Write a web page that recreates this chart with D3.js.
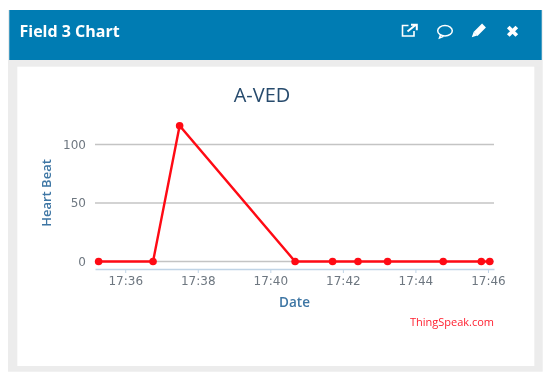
<!DOCTYPE html>
<html>
<head>
<meta charset="utf-8">
<script src="https://cdn.jsdelivr.net/npm/d3@7"></script>
<style>
html,body{margin:0;padding:0;background:#fff;}
svg{display:block;filter:blur(0.35px);}
text{font-family:"DejaVu Sans",sans-serif;}
</style>
</head>
<body>
<svg id="c" width="550" height="379"></svg>
<script>
const panelTitle = "Field 3 Chart";
const chartTitle = "A-VED";
const xLabel = "Date";
const yLabel = "Heart Beat";
const credit = "ThingSpeak.com";
const times = ["17:35:16","17:36:46","17:37:30","17:40:41","17:41:43","17:42:25","17:43:14","17:44:46","17:45:49","17:46:03"];
const heartBeat = [0,0,116,0,0,0,0,0,0,0];
const xTicks = ["17:36:00","17:38:00","17:40:00","17:42:00","17:44:00","17:46:00"];
const yTicks = [0,50,100];
const xDomain = ["17:35:10","17:46:10"];

const parse = d3.timeParse("%H:%M:%S");
const svg = d3.select("#c");

// panel
svg.append("rect").attr("x",8).attr("y",10).attr("width",534.7).attr("height",361.7).attr("fill","#ececec");
svg.append("rect").attr("x",9.3).attr("y",10).attr("width",532.4).attr("height",50).attr("fill","#007cb3");
svg.append("rect").attr("x",17.3).attr("y",66.7).attr("width",517).attr("height",299.3).attr("fill","#fff");
svg.append("text").attr("x",19.5).attr("y",36.8).attr("fill","#fff")
  .style("font-family","'Open Sans',sans-serif").style("font-size","16px").style("font-weight","700").text(panelTitle);

// header icons
const icons = svg.append("g").attr("fill","none").attr("stroke","#fff");
icons.append("path").attr("stroke-width",1.6).attr("d","M414 31v5h-11.5v-10.5h6");
icons.append("path").attr("stroke-width",2).attr("d","M407.5 31.5l8-6.5M411 24.8h5.8v5.5");
icons.append("ellipse").attr("cx",445).attr("cy",30.8).attr("rx",7.3).attr("ry",5.2).attr("stroke-width",1.5);
icons.append("path").attr("stroke-width",1.5).attr("d","M440.5 35l-1 3 4-1.6");
icons.append("path").attr("stroke-width",5.4).attr("d","M475.5 34l8.5-8.5");
icons.append("path").attr("fill","#fff").attr("stroke","none").attr("d","M473.6 32l-1.8 5.2 5.4-1.6z");
icons.append("path").attr("stroke-width",3.8).attr("d","M508.3 27l8.5 8.5M516.8 27l-8.5 8.5");

// scales
const x = d3.scaleTime().domain(xDomain.map(parse)).range([95,494]);
const y = d3.scaleLinear().domain([0,100]).range([261.5,144.5]);

// grid
svg.append("g").selectAll("line").data(yTicks).join("line")
  .attr("x1",95).attr("x2",494).attr("y1",d=>y(d)).attr("y2",d=>y(d))
  .attr("stroke","#c4c4c4").attr("stroke-width",1.3);

// y axis
const ya = svg.append("g").attr("transform","translate(95,0)")
  .call(d3.axisLeft(y).tickValues(yTicks).tickSize(0).tickPadding(9));
ya.select(".domain").remove();
ya.selectAll("text").attr("fill","#6e7780").style("font-size","12px")
  .style("font-family","'DejaVu Sans',sans-serif");

// x axis
const xa = svg.append("g").attr("transform","translate(0,269)")
  .call(d3.axisBottom(x).tickValues(xTicks.map(parse)).tickFormat(d3.timeFormat("%H:%M")).tickSize(4).tickSizeOuter(0).tickPadding(3.5));
xa.select(".domain").attr("stroke","#c0d4e6").attr("stroke-width",1.4);
xa.selectAll(".tick line").attr("stroke","#c0d4e6");
xa.selectAll("text").attr("fill","#6e7780").style("font-size","12px")
  .style("font-family","'DejaVu Sans',sans-serif");

// series
const pts = times.map((t,i)=>({t:parse(t),v:heartBeat[i]}));
svg.append("path").datum(pts).attr("fill","none").attr("stroke","#ff0a14").attr("stroke-width",2.4)
  .attr("d",d3.line().x(d=>x(d.t)).y(d=>y(d.v)));
svg.append("g").selectAll("circle").data(pts).join("circle")
  .attr("cx",d=>x(d.t)).attr("cy",d=>y(d.v)).attr("r",3.8).attr("fill","#ff0a14");

// labels
svg.append("text").attr("x",262).attr("y",101.5).attr("text-anchor","middle").attr("fill","#274b6d")
  .style("font-family","'Open Sans',sans-serif").style("font-size","20px").text(chartTitle);
svg.append("text").attr("x",294.5).attr("y",307).attr("text-anchor","middle").attr("fill","#3e76a4")
  .style("font-family","'Open Sans',sans-serif").style("font-size","13.5px").style("font-weight","600").text(xLabel);
svg.append("text").attr("transform","translate(50.5,193) rotate(-90)").attr("text-anchor","middle").attr("fill","#3e76a4")
  .style("font-family","'Open Sans',sans-serif").style("font-size","13px").style("font-weight","600").text(yLabel);
svg.append("text").attr("x",494).attr("y",326).attr("text-anchor","end").attr("fill","#ff2030")
  .style("font-family","'Open Sans',sans-serif").style("font-size","11px").text(credit);
</script>
</body>
</html>
